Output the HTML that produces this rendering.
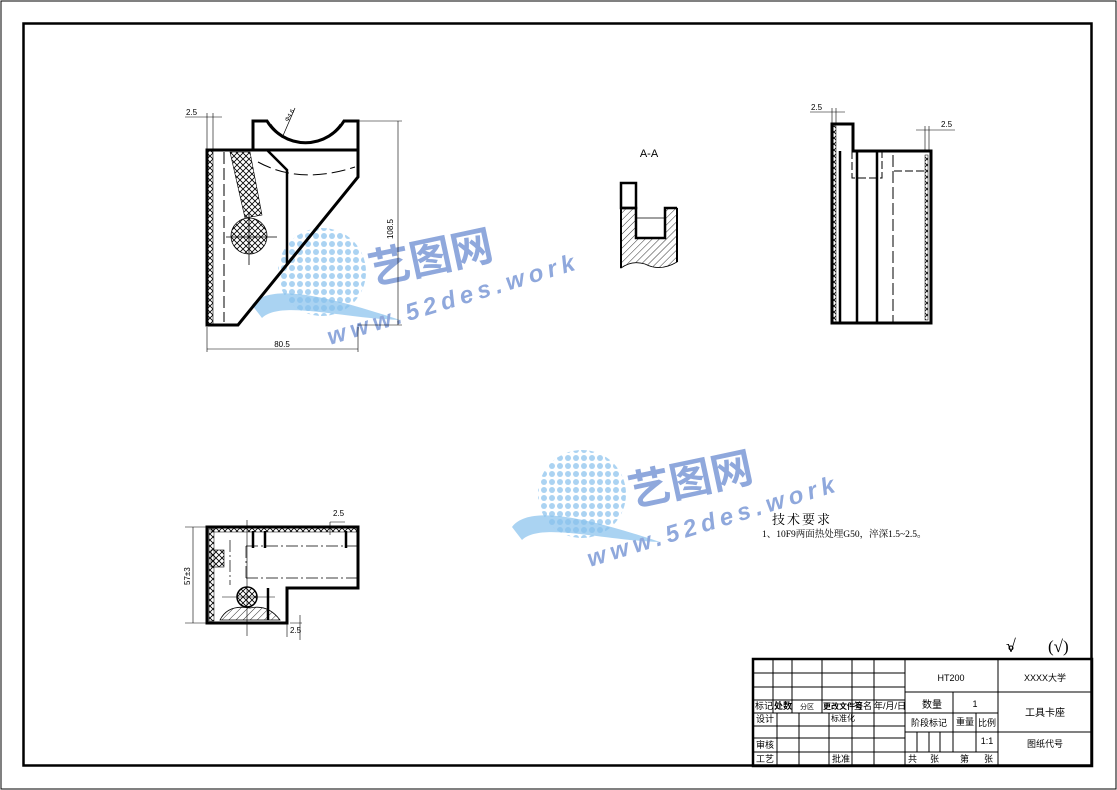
<!DOCTYPE html>
<html><head><meta charset="utf-8"><style>
html,body{margin:0;padding:0;background:#fff;}
svg{display:block;}
text{font-family:"Liberation Sans","Noto Sans CJK SC",sans-serif;}
.s{font-family:"Liberation Serif","Noto Serif CJK SC","Noto Sans CJK SC",serif;}
</style></head><body>
<svg width="1117" height="790" viewBox="0 0 1117 790" xmlns="http://www.w3.org/2000/svg">
<defs>
<pattern id="x" width="6" height="6" patternUnits="userSpaceOnUse">
<path d="M0,0L6,6M6,0L0,6" stroke="#000" stroke-width="0.8"/></pattern>
<pattern id="h" width="5" height="5" patternUnits="userSpaceOnUse" patternTransform="rotate(45)">
<line x1="0" y1="0" x2="0" y2="5" stroke="#000" stroke-width="0.8"/></pattern>
<pattern id="dots" width="8" height="8" patternUnits="userSpaceOnUse">
<circle cx="4" cy="4" r="3" fill="#9ccbf0"/></pattern>
<g id="wm">
<circle cx="322" cy="272" r="44" fill="url(#dots)" opacity="0.85"/>
<path d="M252,305 C270,280 340,300 400,320 C340,318 280,300 262,318 Z" fill="#86c0ec" opacity="0.7"/>
<g transform="translate(372,285) rotate(-12)"><text x="0" y="0" font-size="42" fill="#8fa8dc" font-weight="bold" font-family="Noto Sans CJK SC,sans-serif">艺图网</text></g>
<g transform="translate(330,345) rotate(-17)"><text x="0" y="0" font-size="24" fill="#8fa8dc" font-weight="bold" font-style="italic" letter-spacing="5">www.52des.work</text></g>
</g>
</defs>
<rect x="1" y="1" width="1115" height="788" fill="none" stroke="#000" stroke-width="1"/>
<rect x="23.5" y="23.5" width="1068" height="742" fill="none" stroke="#000" stroke-width="2.5"/>

<use href="#wm"/>
<use href="#wm" transform="translate(260,222)"/>

<!-- FRONT VIEW -->
<g stroke="#000" fill="none">
<rect x="208" y="151" width="5" height="173" fill="url(#x)" stroke-width="0.6"/>
<path d="M230,152 L250,152 L262,215 L245,218 Z" fill="url(#x)" stroke-width="0.6"/>
<circle cx="249" cy="236" r="18" fill="url(#x)" stroke-width="0.8"/>
<path d="M226,237 H277 M249,212 V265" stroke-width="0.8"/>
<line x1="224" y1="152" x2="224" y2="322" stroke-dasharray="12,4" stroke-width="1"/>
<path d="M258,162 Q300,185 355,167" stroke-dasharray="14,5" stroke-width="1"/>
<path d="M207,150 H358 V177 L238,325 H207 Z" stroke-width="3"/>
<path d="M253,150 V121 H267 A45,45 0 0 0 344,121 H358 V150" stroke-width="3"/>
<path d="M271,124 A42,42 0 0 0 340,124" stroke-width="0.6"/>
<path d="M267,150 L287,170 V265" stroke-width="2.5"/>
<path d="M282,138 L295,108" stroke-width="0.7"/>
<g stroke-width="0.6">
<path d="M358,121 H402 M358,325 H402 M398,121 V325"/>
<path d="M207,327 V352 M358,327 V352 M207,349 H358"/>
<path d="M185,117 H222 M207,113 V150 M213,113 V150"/>
</g>
</g>
<text x="393" y="229" font-size="8" transform="rotate(-90 393 229)" text-anchor="middle">108.5</text>
<text x="282" y="347" font-size="8" text-anchor="middle">80.5</text>
<text x="186" y="115" font-size="8">2.5</text>
<text x="288" y="122" font-size="6" transform="rotate(-60 288 122)">Φ4.6</text>

<!-- A-A -->
<text x="649" y="157" font-size="11" text-anchor="middle">A-A</text>
<g stroke="#000">
<path d="M621,208 H636 V238 H665 V208 H677 V262 Q660,272 645,264 Q632,260 621,268 Z" fill="url(#h)" stroke-width="0.8"/>
<path d="M621,268 V208 M677,208 V262" stroke-width="2" fill="none"/>
<rect x="621" y="183" width="15" height="25" fill="none" stroke-width="2.5"/>
<path d="M621,208 H636 V238 H665 V208 H677" fill="none" stroke-width="2.5"/>
<line x1="636" y1="218" x2="665" y2="218" stroke-width="0.8"/>
</g>

<!-- RIGHT VIEW -->
<g stroke="#000" fill="none">
<rect x="833" y="126" width="3" height="196" fill="url(#x)" stroke-width="0.5"/>
<rect x="925" y="155" width="3" height="165" fill="url(#x)" stroke-width="0.5"/>
<path d="M832,323 V124 H853 V151 H931 V323 Z" stroke-width="3"/>
<path d="M840,151 V323 M857,151 V323 M877,151 V323" stroke-width="2.5"/>
<path d="M893,155 V323" stroke-dasharray="12,4" stroke-width="1"/>
<path d="M852,151 V178 H882 V151 M894,171 H925" stroke-dasharray="8,3" stroke-width="1"/>
<g stroke-width="0.6"><path d="M810,112 H845 M832,108 V124 M836,108 V124 M916,130 H955 M925,126 V151 M929,126 V151"/></g>
</g>
<text x="811" y="110" font-size="8">2.5</text>
<text x="941" y="127" font-size="8">2.5</text>

<!-- BOTTOM VIEW -->
<g stroke="#000" fill="none">
<rect x="209" y="529" width="5" height="92" fill="url(#x)" stroke-width="0.5"/>
<rect x="211" y="528" width="146" height="4" fill="url(#x)" stroke-width="0.5"/>
<rect x="211" y="550" width="13" height="17" fill="url(#x)" stroke-width="0.6"/>
<circle cx="247" cy="597" r="10" fill="url(#x)" stroke-width="1.5"/>
<path d="M220,620 Q228,604 250,608 Q268,604 280,620 Z" fill="url(#h)" stroke-width="0.8"/>
<path d="M207,527 H358 V588 H287 V623 H207 Z" stroke-width="3"/>
<path d="M268,588 V620" stroke-width="2.5"/>
<path d="M253,531 V548 M265,531 V548 M346,531 V548" stroke-width="2.5"/>
<path d="M247,520 V636 M222,597 H275" stroke-width="0.6"/>
<path d="M230,540 V585 M246,546 H358 M246,578 H358 M246,546 V578" stroke-dasharray="12,3,2,3" stroke-width="0.7"/>
<g stroke-width="0.6"><path d="M185,527 H207 M185,623 H207 M193,527 V623 M330,522 V535 M330,522 H345 M287,623 V637 M290,623 H302 M300,615 V640"/></g>
</g>
<text x="333" y="516" font-size="8">2.5</text>
<text x="290" y="633" font-size="8">2.5</text>
<text x="190" y="585" font-size="8" transform="rotate(-90 190 585)">57±3</text>

<text x="772" y="524" font-size="13" class="s" letter-spacing="2">技术要求</text>
<text x="762" y="537" font-size="9.5" class="s">1、10F9两面热处理G50，淬深1.5~2.5。</text>

<text x="1006" y="652" font-size="18" class="s">√</text>
<circle cx="1011" cy="648" r="2" fill="none" stroke="#000" stroke-width="1"/>
<text x="1048" y="652" font-size="17" class="s">(√)</text>

<!-- TITLE BLOCK -->
<g stroke="#000" fill="none">
<rect x="753" y="659" width="339" height="107" stroke-width="2.5"/>
<g stroke-width="1">
<path d="M753,673 H905 M753,687 H905 M753,700 H905 M753,713 H905 M753,726 H905 M753,738 H905 M753,752 H905"/>
<path d="M773,659 V713 M792,659 V713 M822,659 V713 M852,659 V766 M874,659 V766"/>
<path d="M777,713 V766 M799,713 V766 M829,713 V766"/>
<path d="M905,659 V766 M998,659 V766"/>
<path d="M905,692 H1092 M905,713 H998 M905,732 H1092 M905,752 H998"/>
<path d="M953,692 V752 M976,713 V752 M917,732 V752 M929,732 V752 M940,732 V752"/>
</g>
</g>
<g font-size="9" class="s">
<text x="951" y="681" text-anchor="middle">HT200</text>
<text x="1045" y="681" text-anchor="middle">XXXX大学</text>
<text x="932" y="708" text-anchor="middle" font-size="10">数量</text>
<text x="975" y="707" text-anchor="middle">1</text>
<text x="1045" y="716" text-anchor="middle" font-size="10">工具卡座</text>
<text x="929" y="726" text-anchor="middle">阶段标记</text>
<text x="965" y="725" text-anchor="middle">重量</text>
<text x="987" y="726" text-anchor="middle">比例</text>
<text x="987" y="744" text-anchor="middle">1:1</text>
<text x="1045" y="747" text-anchor="middle">图纸代号</text>
<text x="908" y="762">共</text><text x="930" y="762">张</text>
<text x="960" y="762">第</text><text x="984" y="762">张</text>
<text x="755" y="709">标记</text>
<text x="774" y="709" font-weight="bold">处数</text>
<text x="800" y="709" font-size="7">分区</text>
<text x="823" y="709" font-weight="bold" font-size="8">更改文件号</text>
<text x="854" y="709">签名</text>
<text x="874" y="709">年/月/日</text>
<text x="756" y="722">设计</text>
<text x="831" y="721" font-size="8">标准化</text>
<text x="756" y="748">审核</text>
<text x="756" y="762">工艺</text>
<text x="832" y="762">批准</text>
</g>
</svg>
</body></html>
